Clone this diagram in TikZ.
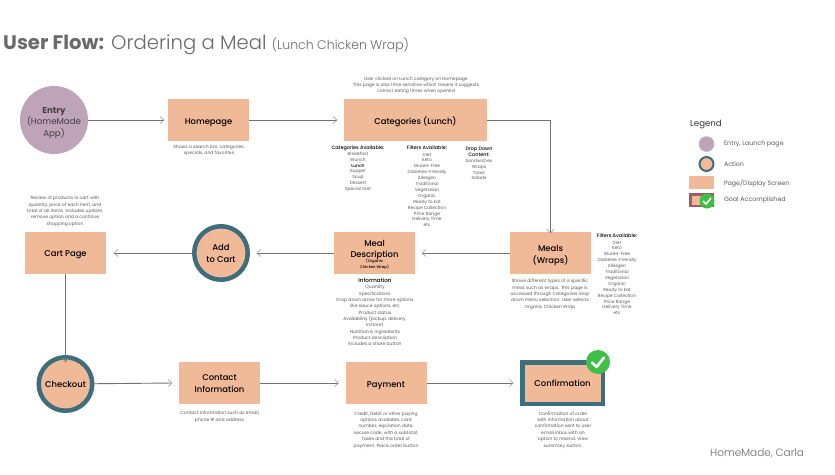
\documentclass[tikz,border=0pt]{standalone}
\usepackage{fontspec}
\setmainfont{Poppins}
\newfontfamily\medf{Poppins Medium}
\newfontfamily\lightf{Poppins Light}
\usetikzlibrary{arrows.meta}
\definecolor{peach}{HTML}{F0B998}
\definecolor{mauve}{HTML}{BFA3B8}
\definecolor{tealb}{HTML}{3E6E7C}
\definecolor{greenc}{HTML}{3FBF45}
\definecolor{wine}{HTML}{9C5B6C}
\definecolor{linec}{HTML}{6F7378}
\definecolor{tipc}{HTML}{9A9A9A}
\definecolor{descc}{HTML}{5A5A5A}
\definecolor{titlec}{HTML}{6A6A6A}
\tikzset{
  pagebox/.style={fill=peach,minimum width=81pt,minimum height=42pt,inner sep=0pt,outer sep=0pt,align=center,text=black,font=\medf\fontsize{8.4}{12}\selectfont},
  actionnode/.style={circle,fill=peach,draw=tealb,line width=4.5pt,minimum size=53.5pt,inner sep=0pt,outer sep=0pt,align=center,text=black,font=\medf\fontsize{8.4}{12}\selectfont},
  entrynode/.style={circle,fill=mauve,minimum size=68pt,inner sep=0pt,outer sep=0pt,align=center,text=black!75,font=\fontsize{8.6}{11.5}\selectfont},
  goalnode/.style={pagebox,draw=tealb,line width=4.5pt,minimum width=80.5pt,minimum height=41.5pt},
  desc/.style={inner sep=0pt,outer sep=0pt,align=center,text=descc,font=\fontsize{4.5}{6.35}\selectfont},
  descb/.style={inner sep=0pt,outer sep=0pt,align=center,text=descc,font=\fontsize{4.4}{5.9}\selectfont},
  leg/.style={inner sep=0pt,outer sep=0pt,anchor=west,text=descc,font=\fontsize{6.3}{7}\selectfont},
  flow/.style={draw=linec,line width=0.9pt,shorten >=0.5pt,-{Straight Barb[color=tipc,length=4pt,width=7pt,line width=0.6pt]}},
  checkbadge/.style={circle,fill=greenc,inner sep=0pt,outer sep=0pt},
  tick/.style={draw=white,line cap=round,line join=round}
}
\newcommand{\colhead}[1]{{\color{black}\medf\fontsize{4.9}{5.9}\selectfont #1}}
\newcommand{\dn}[2]{\raisebox{-#1pt}[\height][\depth]{#2}}
\begin{document}
\begin{tikzpicture}[x=1pt,y=-1pt]
\useasboundingbox[fill=white] (0,0) rectangle (835,474);
\node[anchor=base west,inner sep=0pt,text=titlec,font=\fontsize{19.6}{22}\selectfont] (title) at (3,49) {\textbf{User Flow:} {\lightf Ordering a Meal} {\lightf\fontsize{12.5}{15}\selectfont (Lunch Chicken Wrap)}};

\node[entrynode] (entry) at (54,120) {\dn{3}{\textbf{Entry}}\\\dn{3}{(HomeMade}\\\dn{3}{App)}};
\node[pagebox] (home) at (208.5,120) {\dn{2.5}{Homepage}};
\node[pagebox,minimum width=143pt] (cat) at (415.5,120) {\dn{1.5}{Categories (Lunch)}};
\node[pagebox] (meals) at (550.5,253) {\dn{2.5}{Meals}\\\dn{2.5}{(Wraps)}};
\node[pagebox] (mdesc) at (374.5,253) {\dn{2}{Meal}\\[-1pt]\dn{2}{Description}\\[-7.5pt]\dn{2}{\fontsize{3.8}{5}\selectfont (Organic}\\[-6pt]\dn{2}{\fontsize{3.8}{5}\selectfont Chicken Wrap)}};
\node[actionnode] (add) at (221,253) {Add\\to Cart};
\node[pagebox] (cart) at (65.5,253) {\dn{2}{Cart Page}};
\node[actionnode] (checkout) at (65.5,384) {Checkout};
\node[pagebox] (contact) at (219.5,383) {\dn{1}{Contact}\\\dn{1}{Information}};
\node[pagebox] (pay) at (386,383) {\dn{3}{Payment}};
\node[goalnode] (conf) at (562.5,383) {Confirmation};
\node[checkbadge,minimum size=24pt] (badge) at (598,362) {};
\draw[tick,line width=2.6pt] ([shift={(-6,0.5)}]badge.center) -- ([shift={(-1.5,5)}]badge.center) -- ([shift={(6,-4.5)}]badge.center);

\draw[flow] (entry) -- ([xshift=-3pt]home.west);
\draw[flow] (home) -- ([xshift=-6pt]cat.west);
\draw[flow] (cat.east) -| ([yshift=-2pt]meals.north);
\draw[flow] (meals) -- ([xshift=6pt]mdesc.east);
\draw[flow] (mdesc) -- ([xshift=8pt]add.east);
\draw[flow] (add) -- ([xshift=7pt]cart.east);
\draw[flow] (cart) -- ([yshift=-6pt]checkout.north);
\draw[flow] (checkout) -- ([xshift=-6pt]contact.west);
\draw[flow] (contact) -- ([xshift=-6pt]pay.west);
\draw[flow] (pay) -- ([xshift=-8pt]conf.west);

\node[desc] (dcat) at (416,85.5) {User clicked on Lunch category on Homepage\\This page is also time sensitive which means it suggests\\correct eating times when opened};
\node[desc] (dhome) at (209,150.5) {Shows a search bar, categories,\\specials, and favorites};
\node[descb] (cola) at (358,168.5) {\colhead{Categories Available:}\\[0.3pt]Breakfast\\Brunch\\{\color{black}\medf Lunch}\\Supper\\Soup\\Dessert\\Special Diet};
\node[descb] (colb) at (427,186.5) {\colhead{Filters Available:}\\[0.3pt]Diet\\Keto\\Gluten-Free\\Diabetes-Friendly\\Allergen\\Traditional\\Vegetarian\\Organic\\Ready to Eat\\Recipe Collection\\Price Range\\Delivery Time\\etc};
\node[descb] (colc) at (479,163.5) {\colhead{Drop Down}\\\colhead{Content:}\\Sandwiches\\Wraps\\Toast\\Salads};
\node[descb] (colm) at (617,274.5) {\colhead{Filters Available:}\\[0.3pt]Diet\\Keto\\Gluten-Free\\Diabetes-Friendly\\Allergen\\Traditional\\Vegetarian\\Organic\\Ready to Eat\\Recipe Collection\\Price Range\\Delivery Time\\etc};
\node[desc] (dmeals) at (550,294.5) {Shows different types of a specific\\meal, such as wraps. This page is\\accessed through Categories drop\\down menu selection. User selects\\Organic Chicken Wrap};
\node[desc] (dinfo) at (375,312) {{\color{black}\medf\fontsize{5.6}{6.35}\selectfont Information}\\Quantity\\Specifications\\Drop down arrow for more options\\like sauce options, etc\\Product status\\Availability (pickup, delivery,\\instore)\\Nutrition \& Ingredients\\Product description\\Includes a share button};
\node[desc] (dcart) at (65,211.5) {Review of products in cart with\\quantity, price of each item, and\\total of all items. Includes update,\\remove option and a continue\\shopping option};
\node[desc] (dcontact) at (220,417) {Contact information such as email,\\phone \# and address.};
\node[desc] (dpay) at (386,430) {Credit, Debit or other paying\\options available, card\\number, expiration date,\\secure code, with a subtotal,\\taxes and the total of\\payment. Place order button};
\node[desc] (dconf) at (563,430) {Confirmation of order\\with information about\\confirmation sent to user\\email inbox with an\\option to resend. View\\summary button.};

\node[inner sep=0pt,anchor=west,text=black!80,font=\fontsize{8.6}{9}\selectfont] (legt) at (690,124) {Legend};
\node[circle,fill=mauve,minimum size=15.5pt,inner sep=0pt] (l1) at (706.5,144) {};
\node[circle,fill=peach,draw=tealb,line width=2pt,minimum size=14pt,inner sep=0pt] (l2) at (706.5,164) {};
\node[fill=peach,minimum width=25pt,minimum height=13pt,inner sep=0pt] (l3) at (701.5,182.5) {};
\node[fill=peach,draw=wine,line width=2.5pt,minimum width=22.5pt,minimum height=11.5pt,inner sep=0pt] (l4) at (701.5,200) {};
\node[checkbadge,minimum size=15pt] (l4c) at (707,201) {};
\draw[tick,line width=1.6pt] ([shift={(-3.7,0.3)}]l4c.center) -- ([shift={(-1,3)}]l4c.center) -- ([shift={(3.7,-2.7)}]l4c.center);
\node[leg] (t1) at (724,144) {Entry, Launch page};
\node[leg] (t2) at (724,164) {Action};
\node[leg] (t3) at (724,183) {Page/Display Screen};
\node[leg] (t4) at (724,199.5) {Goal Accomplished};
\node[inner sep=0pt,anchor=base west,text=titlec,font=\lightf\fontsize{10.5}{12}\selectfont] (sig) at (710,456) {HomeMade, Carla};
\end{tikzpicture}
\end{document}
